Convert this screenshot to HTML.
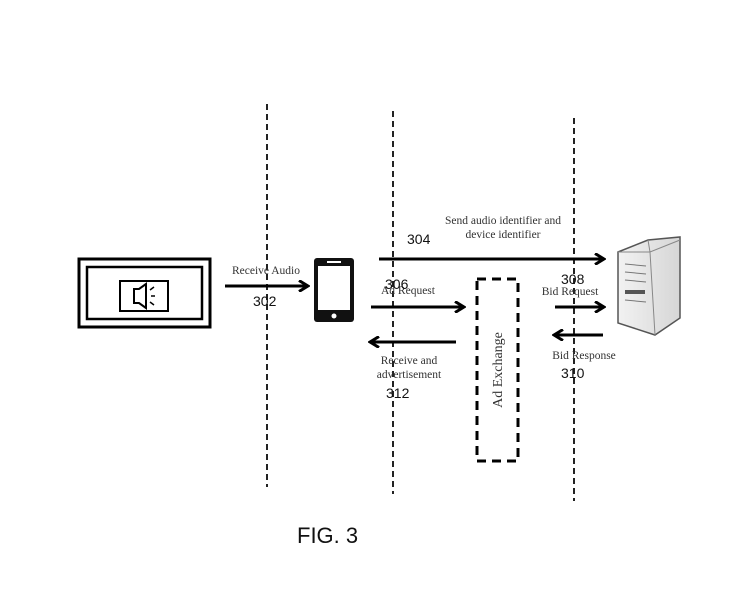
<!DOCTYPE html>
<html><head><style>body{margin:0;background:#fff}svg{display:block}</style></head><body>
<svg width="734" height="600" xmlns="http://www.w3.org/2000/svg">
<defs>
<marker id="a" markerWidth="12" markerHeight="12" refX="9" refY="6" orient="auto" markerUnits="userSpaceOnUse"><path d="M1,0.5 L10,6 L1,11.5" fill="none" stroke="#000" stroke-width="3"/></marker>
<linearGradient id="g" x1="0" x2="1"><stop offset="0" stop-color="#f2f2f2"/><stop offset="1" stop-color="#d6d6d6"/></linearGradient>
</defs>
<g stroke="#222" stroke-width="2" stroke-dasharray="6,4">
<line x1="267" y1="104" x2="267" y2="487"/>
<line x1="393" y1="111" x2="393" y2="494"/>
<line x1="574" y1="118" x2="574" y2="501"/>
</g>
<rect x="79" y="259" width="131" height="68" fill="none" stroke="#000" stroke-width="3"/>
<rect x="87" y="267" width="115" height="52" fill="none" stroke="#000" stroke-width="2.5"/>
<rect x="120" y="281" width="48" height="30" fill="none" stroke="#000" stroke-width="2"/>
<path d="M134,289 h5 l7,-5 v24 l-7,-5 h-5z" fill="none" stroke="#000" stroke-width="2"/>
<path d="M150,290 l4,-3 M151,296 h4 M150,302 l4,3" stroke="#000" stroke-width="1.5"/>
<rect x="314" y="258" width="40" height="64" rx="3" fill="#111"/>
<rect x="318" y="266" width="32" height="44" fill="#fff"/>
<rect x="327" y="261" width="14" height="2" fill="#fff"/>
<circle cx="334" cy="316" r="2.5" fill="#fff"/>
<path d="M618,252 L648,240 L680,237 L680,318 L655,335 L618,323Z" fill="url(#g)" stroke="#555" stroke-width="1.5"/>
<path d="M648,240 L650,252 L655,335 M618,252 L650,252 L680,240" fill="none" stroke="#888" stroke-width="1"/>
<g stroke="#777" stroke-width="1"><line x1="625" y1="264" x2="646" y2="266"/><line x1="625" y1="272" x2="646" y2="274"/><line x1="625" y1="280" x2="646" y2="282"/><line x1="625" y1="300" x2="646" y2="302"/></g>
<rect x="625" y="290" width="20" height="4" fill="#555"/>
<g stroke="#000" stroke-width="3" fill="none" marker-end="url(#a)">
<line x1="225" y1="286" x2="307" y2="286"/>
<line x1="379" y1="259" x2="603" y2="259"/>
<line x1="371" y1="307" x2="463" y2="307"/>
<line x1="456" y1="342" x2="371" y2="342"/>
<line x1="555" y1="307" x2="603" y2="307"/>
<line x1="603" y1="335" x2="555" y2="335"/>
</g>
<rect x="477" y="279" width="41" height="182" fill="none" stroke="#000" stroke-width="3" stroke-dasharray="9,6"/>
<g font-family="Liberation Serif,serif" font-size="11.5" fill="#333" text-anchor="middle">
<text x="266" y="274">Receive Audio</text>
<text x="503" y="224">Send audio identifier and</text>
<text x="503" y="238">device identifier</text>
<text x="408" y="294">Ad Request</text>
<text x="570" y="295">Bid Request</text>
<text x="584" y="359">Bid Response</text>
<text x="409" y="364">Receive and</text>
<text x="409" y="378">advertisement</text>
<text transform="translate(502,370) rotate(-90)" font-size="14">Ad Exchange</text>
</g>
<g font-family="Liberation Sans,sans-serif" font-size="14" fill="#111">
<text x="253" y="306">302</text>
<text x="407" y="244">304</text>
<text x="385" y="289">306</text>
<text x="561" y="284">308</text>
<text x="561" y="378">310</text>
<text x="386" y="398">312</text>
<text x="297" y="543" font-size="22">FIG. 3</text>
</g>
</svg>
</body></html>
